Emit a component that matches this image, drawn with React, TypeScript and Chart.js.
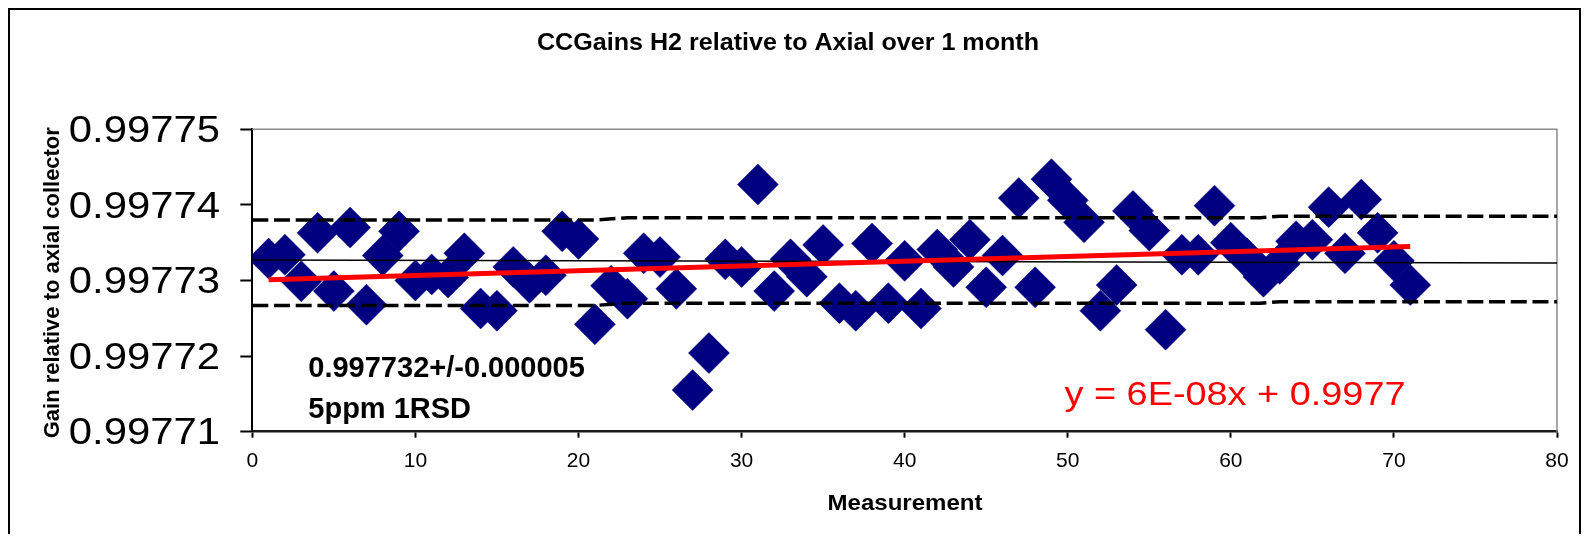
import { useEffect, useRef } from "react";
import { Chart, registerables } from "chart.js";

Chart.register(...registerables);

// Measurement number for each gain reading
const measurement = [
  1, 2, 3, 4, 5, 6, 7, 8, 9, 10, 11, 12, 13, 14, 15, 16, 17, 18, 19, 20,
  21, 22, 23, 24, 25, 26, 27, 28, 29, 30, 31, 32, 33, 34, 35, 36, 37, 38, 39, 40,
  41, 42, 43, 44, 45, 46, 47, 48, 49, 50, 51, 52, 53, 54, 55, 56, 57, 58, 59, 60,
  61, 62, 63, 64, 65, 66, 67, 68, 69, 70, 71,
];

// H2 collector gain relative to the axial collector
const gain = [
  0.9977329, 0.9977334, 0.9977299, 0.9977363, 0.9977286, 0.997737, 0.9977268, 0.9977333, 0.9977365, 0.99773,
  0.9977308, 0.9977304, 0.9977336, 0.9977263, 0.997726, 0.9977318, 0.9977297, 0.9977307, 0.9977365, 0.9977355,
  0.9977242, 0.9977293, 0.9977276, 0.9977336, 0.9977331, 0.9977289, 0.9977155, 0.9977204, 0.9977328, 0.9977318,
  0.9977427, 0.9977286, 0.9977328, 0.9977305, 0.9977347, 0.997727, 0.997726, 0.9977349, 0.997727, 0.9977326,
  0.9977263, 0.9977341, 0.9977318, 0.9977354, 0.9977291, 0.9977333, 0.9977409, 0.9977291, 0.9977434, 0.9977406,
  0.9977377, 0.997726, 0.9977294, 0.9977392, 0.9977366, 0.9977235, 0.9977334, 0.9977334, 0.9977399, 0.997735,
  0.9977329, 0.9977305, 0.9977322, 0.9977352, 0.9977354, 0.9977397, 0.9977336, 0.9977407, 0.9977363, 0.9977326,
  0.9977294,
];

// Linear trend, y = 6E-08x + 0.9977
const trendX = [1, 71];
const trendGain = [0.9977301, 0.9977345];

// Running mean and +/- 1 SD limits
const meanX = [0, 80];
const meanGain = [0.9977327, 0.9977323];
const bandX = [0, 21, 23, 61.8, 63, 80];
const upperGain = [0.997738, 0.997738, 0.9977383, 0.9977383, 0.9977385, 0.9977385];
const lowerGain = [0.9977267, 0.9977267, 0.997727, 0.997727, 0.9977272, 0.9977272];

const chartTitle = "CCGains H2 relative to Axial over 1 month";
const xTitle = "Measurement";
const yTitle = "Gain relative to axial collector";
const statsLines = ["0.997732+/-0.000005", "5ppm 1RSD"];
const trendLabel = "y = 6E-08x + 0.9977";

const FONT = "'Liberation Sans', Arial, sans-serif";

const toPoints = (xs: number[], ys: number[]) => xs.map((x, i) => ({ x, y: ys[i] }));

function drawText(
  ctx: CanvasRenderingContext2D,
  text: string,
  x: number,
  y: number,
  font: string,
  color: string,
  align: CanvasTextAlign,
  baseline: CanvasTextBaseline,
  sx = 1,
  rotate = 0,
) {
  ctx.save();
  ctx.translate(x, y);
  if (rotate) ctx.rotate(rotate);
  ctx.scale(sx, 1);
  ctx.font = font;
  ctx.fillStyle = color;
  ctx.textAlign = align;
  ctx.textBaseline = baseline;
  ctx.fillText(text, 0, 0);
  ctx.restore();
}

function widthFor(ctx: CanvasRenderingContext2D, text: string, font: string) {
  ctx.save();
  ctx.font = font;
  const w = ctx.measureText(text).width;
  ctx.restore();
  return w;
}

const decorations = {
  id: "decorations",
  beforeDatasetsDraw(chart: any) {
    const { ctx, chartArea: a } = chart;
    ctx.save();
    ctx.strokeStyle = "#8c8c8c";
    ctx.lineWidth = 1.5;
    ctx.beginPath();
    ctx.moveTo(a.left, a.top);
    ctx.lineTo(a.right, a.top);
    ctx.lineTo(a.right, a.bottom);
    ctx.stroke();
    ctx.restore();
  },
  afterDraw(chart: any) {
    const { ctx, width } = chart;
    const ys = chart.scales.y;

    // outer frame
    ctx.save();
    ctx.strokeStyle = "#000";
    ctx.lineWidth = 2;
    ctx.strokeRect(1, 1, width - 2, chart.height + 10);
    ctx.restore();

    // value axis labels
    ys.ticks.forEach((t: any) => {
      const py = ys.getPixelForValue(t.value);
      drawText(ctx, Number(t.value).toFixed(5), 212, py + 2.5, `37px ${FONT}`, "#000", "right", "middle", 1.13);
    });

    // chart title
    const tf = `bold 24px ${FONT}`;
    drawText(ctx, chartTitle, 780, 35, tf, "#000", "center", "middle", 502 / widthFor(ctx, chartTitle, tf));

    // axis titles
    const xf = `bold 22px ${FONT}`;
    drawText(ctx, xTitle, 897, 496, xf, "#000", "center", "middle", 155 / widthFor(ctx, xTitle, xf));
    const yf = `bold 22px ${FONT}`;
    drawText(ctx, yTitle, 44.7, 274.7, yf, "#000", "center", "middle", 311 / widthFor(ctx, yTitle, yf), -Math.PI / 2);

    // statistics annotation
    const sf = `bold 29px ${FONT}`;
    drawText(ctx, statsLines[0], 300.3, 368.7, sf, "#000", "left", "alphabetic");
    drawText(ctx, statsLines[1], 300.3, 409.7, sf, "#000", "left", "alphabetic");

    // trend equation
    const ef = `32.6px ${FONT}`;
    drawText(ctx, trendLabel, 1056.5, 397, ef, "#ff0000", "left", "alphabetic", 341 / widthFor(ctx, trendLabel, ef));
  },
};

export default function App() {
  const ref = useRef<HTMLCanvasElement | null>(null);

  useEffect(() => {
    if (!ref.current) return;
    const chart = new Chart(ref.current, {
      type: "scatter",
      data: {
        datasets: [
          {
            label: "Gain",
            data: toPoints(measurement, gain),
            pointStyle: "rectRot",
            pointRadius: 20.5,
            pointHoverRadius: 20.5,
            backgroundColor: "#000080",
            borderColor: "#000080",
            borderWidth: 0.5,
            showLine: false,
            order: 10,
          },
          {
            label: "Mean",
            data: toPoints(meanX, meanGain),
            showLine: true,
            borderColor: "#000",
            borderWidth: 1.5,
            pointRadius: 0,
            order: 3,
          },
          {
            label: "Upper",
            data: toPoints(bandX, upperGain),
            showLine: true,
            borderColor: "#000",
            borderWidth: 3.5,
            borderDash: [16, 5.7],
            pointRadius: 0,
            order: 2,
          },
          {
            label: "Lower",
            data: toPoints(bandX, lowerGain),
            showLine: true,
            borderColor: "#000",
            borderWidth: 3.5,
            borderDash: [16, 5.7],
            pointRadius: 0,
            order: 2,
          },
          {
            label: "Trend",
            data: toPoints(trendX, trendGain),
            showLine: true,
            borderColor: "#ff0000",
            borderWidth: 5,
            pointRadius: 0,
            order: 0,
          },
        ],
      },
      options: {
        responsive: false,
        animation: false,
        events: [],
        layout: { padding: { top: 121.3, right: 24, left: 0, bottom: 0 } },
        plugins: {
          legend: { display: false },
          title: { display: false },
          tooltip: { enabled: false },
        },
        scales: {
          x: {
            type: "linear",
            min: 0,
            max: 80,
            ticks: {
              stepSize: 10,
              color: "#000",
              font: { family: FONT, size: 21 },
              padding: 10.5,
              maxRotation: 0,
            },
            grid: { drawOnChartArea: false, drawTicks: true, tickLength: 6, tickColor: "#000", tickWidth: 2 },
            border: { display: true, color: "#1a1a1a", width: 2.5 },
            afterFit: (s: any) => {
              s.height = 136.3;
            },
          },
          y: {
            type: "linear",
            min: 0.99771,
            max: 0.99775,
            ticks: { stepSize: 0.00001, display: false },
            grid: { drawOnChartArea: false, drawTicks: true, tickLength: 12, tickColor: "#000", tickWidth: 2 },
            border: { display: true, color: "#000", width: 2 },
            afterFit: (s: any) => {
              s.width = 244.3;
            },
          },
        },
      },
      plugins: [decorations],
    });
    return () => chart.destroy();
  }, []);

  return (
    <div style={{ width: 1573, height: 526, overflow: "hidden" }}>
      <canvas ref={ref} width={1573} height={560} style={{ display: "block" }} />
    </div>
  );
}
